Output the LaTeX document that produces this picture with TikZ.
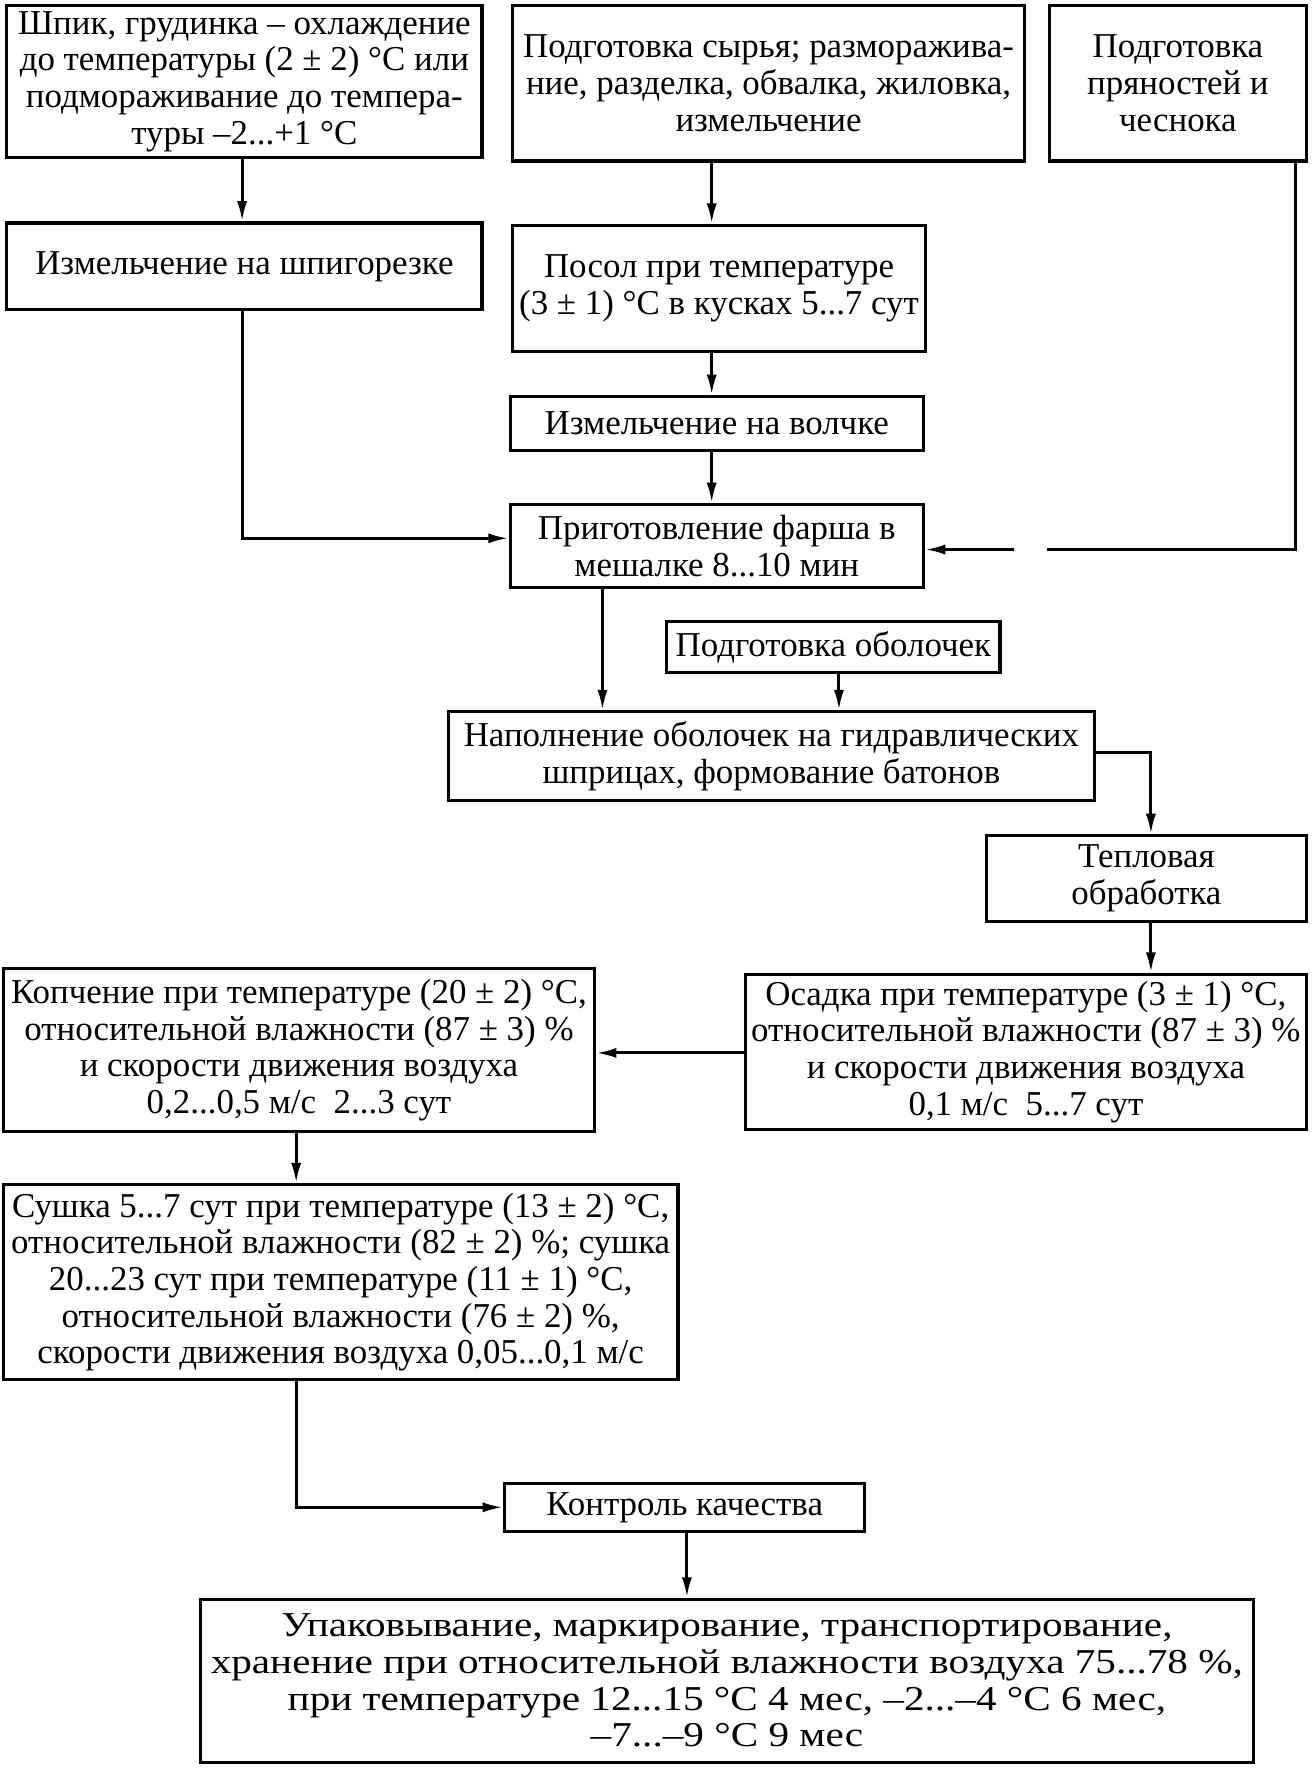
\documentclass[tikz,border=0pt]{standalone}
\usepackage{fontspec}
\setmainfont{Liberation Serif}
\newfontfamily\widefont[FakeStretch=1.18]{Liberation Serif}
\usetikzlibrary{arrows.meta}
\newcommand\fs{\fontsize{15.5pt}{16.3pt}\selectfont}
\begin{document}
\begin{tikzpicture}[x=0.5pt,y=-0.5pt,
  bx/.style={draw, line width=1.4pt, inner sep=0pt, align=center, font=\fs},
  ar/.style={line width=1.3pt, -{Latex[length=9pt,width=4.5pt]}},
  ln/.style={line width=1.3pt}]
\useasboundingbox (0,0) rectangle (1166,1570);
\node[bx, minimum width=211pt, minimum height=67.5pt] (b1) at (217,72.5) {Шпик, грудинка – охлаждение\\до температуры (2 ± 2) °C или\\подмораживание до темпера-\\туры –2...+1 °C};
\node[bx, minimum width=227.5pt, minimum height=69pt] (b2) at (682.5,74) {Подготовка сырья; разморажива-\\ние, разделка, обвалка, жиловка,\\измельчение};
\node[bx, minimum width=114pt, minimum height=69pt] (b3) at (1046,74) {Подготовка\\пряностей и\\чеснока};
\node[bx, minimum width=211pt, minimum height=38.5pt] (b4) at (217,236.5) {Измельчение на шпигорезке};
\node[bx, minimum width=183.5pt, minimum height=56pt] (b5) at (638.5,256) {Посол при температуре\\(3 ± 1) °C в кусках 5...7 сут};
\node[bx, minimum width=183.5pt, minimum height=24pt] (b6) at (636.5,376) {Измельчение на волчке};
\node[bx, minimum width=183.5pt, minimum height=37pt] (b7) at (636.5,485) {Приготовление фарша в\\мешалке 8...10 мин};
\node[bx, minimum width=148pt, minimum height=22.5pt] (b8) at (740,574.5) {Подготовка оболочек};
\node[bx, minimum width=287pt, minimum height=39.5pt] (b9) at (685,671.5) {Наполнение оболочек на гидравлических\\шприцах, формование батонов};
\node[bx, minimum width=142pt, minimum height=38pt] (b10) at (1018,780) {Тепловая\\обработка};
\node[bx, minimum width=249pt, minimum height=69pt] (b11) at (911,934) {Осадка при температуре (3 ± 1) °C,\\относительной влажности (87 ± 3) \%\\и скорости движения воздуха\\0,1 м/с\ \ 5...7 сут};
\node[bx, minimum width=262.5pt, minimum height=72.5pt] (b12) at (265.5,932.5) {Копчение при температуре (20 ± 2) °C,\\относительной влажности (87 ± 3) \%\\и скорости движения воздуха\\0,2...0,5 м/с\ \ 2...3 сут};
\node[bx, minimum width=299.5pt, minimum height=86.5pt] (b13) at (302.5,1138.5) {Сушка 5...7 сут при температуре (13 ± 2) °C,\\относительной влажности (82 ± 2) \%; сушка\\20...23 сут при температуре (11 ± 1) °C,\\относительной влажности (76 ± 2) \%,\\скорости движения воздуха 0,05...0,1 м/с};
\node[bx, minimum width=160pt, minimum height=21.5pt] (b14) at (608,1338.5) {Контроль качества};
\node[bx, minimum width=467.5pt, minimum height=72.5pt, font=\fs\widefont] (b15) at (645.5,1492.5) {Упаковывание, маркирование, транспортирование,\\хранение при относительной влажности воздуха 75...78 \%,\\при температуре 12...15 °C 4 мес, –2...–4 °C 6 мес,\\–7...–9 °C 9 мес};
\coordinate (gapR) at (930,488);
\coordinate (gapL) at (900,488);
\draw[ar] (b1.south -| 215,0) -- (b4.north -| 215,0);
\draw[ar] (b2.south -| 632,0) -- (b5.north -| 632,0);
\draw[ar] (b4.south -| 215,0) |- (b7.west |- 0,478);
\draw[ar] (b5.south -| 632,0) -- (b6.north -| 632,0);
\draw[ar] (b6.south -| 632,0) -- (b7.north -| 632,0);
\draw[ln] (b3.south -| 1150,0) |- (gapR);
\draw[ar] (gapL) -- (b7.east |- 0,488);
\draw[ar] (b7.south -| 535,0) -- (b9.north -| 535,0);
\draw[ar] (b8.south -| 745,0) -- (b9.north -| 745,0);
\draw[ar] (b9.east |- 0,668) -| (b10.north -| 1022,0);
\draw[ar] (b10.south -| 1022,0) -- (b11.north -| 1022,0);
\draw[ar] (b11.west |- 0,935) -- (b12.east |- 0,935);
\draw[ar] (b12.south -| 263,0) -- (b13.north -| 263,0);
\draw[ar] (b13.south -| 263,0) |- (b14.west);
\draw[ar] (b14.south -| 610,0) -- (b15.north -| 610,0);
\end{tikzpicture}
\end{document}
